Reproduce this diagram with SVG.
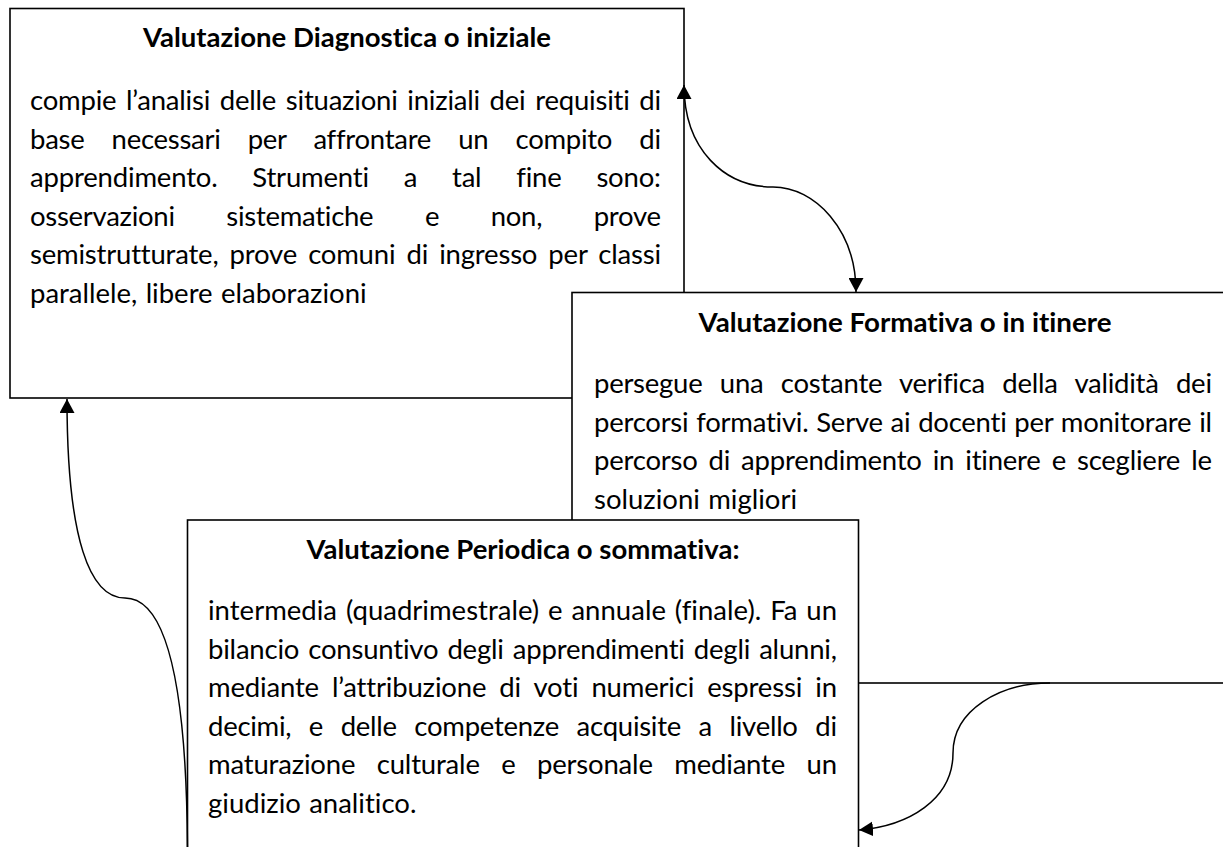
<svg xmlns="http://www.w3.org/2000/svg" width="1223" height="847" viewBox="0 0 1223 847">
  <defs>
    <style>
      .box { fill: #ffffff; stroke: #000000; stroke-width: 1.6; }
      .title { font-family: Lato, "Liberation Sans", sans-serif; font-weight: bold; font-size: 27.5px; fill: #000000; text-anchor: middle; font-variant-ligatures: none; }
      .body { font-family: Lato, "Liberation Sans", sans-serif; font-size: 27.5px; fill: #000000; font-variant-ligatures: none; }
      .conn { fill: none; stroke: #000000; stroke-width: 1.5; }
    </style>
    <marker id="arrow" markerUnits="userSpaceOnUse" viewBox="0 0 14 15" refX="14" refY="7.5" markerWidth="14" markerHeight="15" orient="auto-start-reverse">
      <path d="M0,0 L14,7.5 L0,15 Z" fill="#000000"/>
    </marker>
  </defs>
  <rect width="1223" height="847" fill="#ffffff"/>

  <g id="node-diagnostica">
    <rect class="box" x="10" y="8.5" width="674" height="389.5"/>
    <text class="title" x="347" y="47" textLength="408" lengthAdjust="spacingAndGlyphs">Valutazione Diagnostica o iniziale</text>
    <text class="body" x="30" y="110" style="word-spacing:2.8px" textLength="631" lengthAdjust="spacing">compie l’analisi delle situazioni iniziali dei requisiti di</text>
    <text class="body" x="30" y="148.6" style="word-spacing:20.4px" textLength="631" lengthAdjust="spacing">base necessari per affrontare un compito di</text>
    <text class="body" x="30" y="187.2" style="word-spacing:27.9px" textLength="631" lengthAdjust="spacing">apprendimento. Strumenti a tal fine sono:</text>
    <text class="body" x="30" y="225.8" style="word-spacing:44.8px" textLength="631" lengthAdjust="spacing">osservazioni sistematiche e non, prove</text>
    <text class="body" x="30" y="264.4" style="word-spacing:4.3px" textLength="631" lengthAdjust="spacing">semistrutturate, prove comuni di ingresso per classi</text>
    <text class="body" x="30" y="303" style="word-spacing:1.3px">parallele, libere elaborazioni</text>
  </g>

  <g id="node-formativa">
    <rect class="box" x="572" y="292.5" width="680" height="390.5"/>
    <text class="title" x="905" y="331.5" textLength="413" lengthAdjust="spacingAndGlyphs">Valutazione Formativa o in itinere</text>
    <text class="body" x="594" y="393" style="word-spacing:10.6px" textLength="618" lengthAdjust="spacing">persegue una costante verifica della validità dei</text>
    <text class="body" x="594" y="431.5" style="word-spacing:1px" textLength="618" lengthAdjust="spacing">percorsi formativi. Serve ai docenti per monitorare il</text>
    <text class="body" x="594" y="470" style="word-spacing:4.2px" textLength="618" lengthAdjust="spacing">percorso di apprendimento in itinere e scegliere le</text>
    <text class="body" x="594" y="508.5" style="word-spacing:1.3px">soluzioni migliori</text>
  </g>

  <g id="node-periodica">
    <rect class="box" x="187.5" y="520" width="671" height="360"/>
    <text class="title" x="523" y="559" textLength="433" lengthAdjust="spacingAndGlyphs">Valutazione Periodica o sommativa:</text>
    <text class="body" x="208" y="620" style="word-spacing:1.8px" textLength="629" lengthAdjust="spacing">intermedia (quadrimestrale) e annuale (finale). Fa un</text>
    <text class="body" x="208" y="658.5" style="word-spacing:2.2px" textLength="629" lengthAdjust="spacing">bilancio consuntivo degli apprendimenti degli alunni,</text>
    <text class="body" x="208" y="697" style="word-spacing:6.2px" textLength="629" lengthAdjust="spacing">mediante l’attribuzione di voti numerici espressi in</text>
    <text class="body" x="208" y="735.5" style="word-spacing:10.8px" textLength="629" lengthAdjust="spacing">decimi, e delle competenze acquisite a livello di</text>
    <text class="body" x="208" y="774" style="word-spacing:14.6px" textLength="629" lengthAdjust="spacing">maturazione culturale e personale mediante un</text>
    <text class="body" x="208" y="812.5" style="word-spacing:1.3px">giudizio analitico.</text>
  </g>

  <g id="connectors">
    <path class="conn" d="M684,85 C684,150 725,187 773,187 C815,187 856,230 856,292" marker-start="url(#arrow)" marker-end="url(#arrow)"/>
    <path class="conn" d="M187.5,860 C187.5,700 170,598 125,598 C90,598 67,540 67,399" marker-end="url(#arrow)"/>
    <path class="conn" d="M1050,683 C1000,683 953,710 953,753 C953,800 908,826 859,830" marker-end="url(#arrow)"/>
  </g>
</svg>
